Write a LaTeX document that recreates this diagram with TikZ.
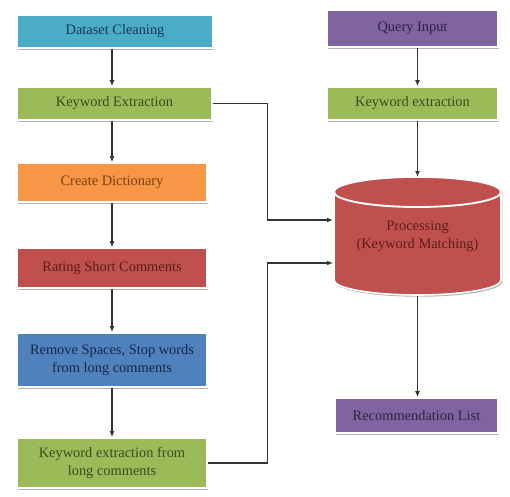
\documentclass[tikz,border=0pt]{standalone}
\usepackage{fontspec}
\setmainfont{Liberation Serif}
\usetikzlibrary{arrows.meta,shadows}

\definecolor{aquafill}{HTML}{4BACC6}
\definecolor{aquatext}{HTML}{17375E}
\definecolor{olivefill}{HTML}{9BBB59}
\definecolor{olivetext}{HTML}{3B4A1E}
\definecolor{orangefill}{HTML}{F79646}
\definecolor{orangetext}{HTML}{7F3F0A}
\definecolor{redfill}{HTML}{C0504D}
\definecolor{redtext}{HTML}{5A1E1C}
\definecolor{bluefill}{HTML}{4F81BD}
\definecolor{bluetext}{HTML}{15284A}
\definecolor{purplefill}{HTML}{8064A2}
\definecolor{purpletext}{HTML}{2E2340}

\begin{document}
\begin{tikzpicture}[x=0.75pt,y=0.75pt,yscale=-1,xscale=1,
    flowbox/.style={draw=white, line width=1.2pt, inner sep=0pt, align=center,
        font=\fontsize{10.8}{13.5}\selectfont,
        drop shadow={shadow xshift=1pt, shadow yshift=-1.3pt, opacity=0.3, fill=black}},
    flowarrow/.style={draw=black!80, line width=0.8pt, -{Latex[length=4.5pt,width=3.6pt]}}]
        \useasboundingbox (0,0) rectangle (510,496);

        %Shape: Rectangle [id:dc]
        \node [flowbox, fill=aquafill, text=aquatext, minimum width=147pt, minimum height=24.75pt] (dc) at (115,31.5) {Dataset Cleaning};
        %Shape: Rectangle [id:ke]
        \node [flowbox, fill=olivefill, text=olivetext, minimum width=146.25pt, minimum height=24.75pt] (ke) at (114.5,103.5) {Keyword Extraction};
        %Shape: Rectangle [id:cd]
        \node [flowbox, fill=orangefill, text=orangetext, minimum width=142.5pt, minimum height=29.25pt] (cd) at (112,182.5) {Create Dictionary};
        %Shape: Rectangle [id:rs]
        \node [flowbox, fill=redfill, text=redtext, minimum width=142.5pt, minimum height=30pt] (rs) at (112,268) {Rating Short Comments};
        %Shape: Rectangle [id:rm]
        \node [flowbox, fill=bluefill, text=bluetext, minimum width=142.5pt, minimum height=40.5pt] (rm) at (112,360) {Remove Spaces, Stop words\\from long comments};
        %Shape: Rectangle [id:kl]
        \node [flowbox, fill=olivefill, text=olivetext, minimum width=142.5pt, minimum height=37.5pt] (kl) at (112,463) {Keyword extraction from\\long comments};

        %Shape: Rectangle [id:qi]
        \node [flowbox, fill=purplefill, text=purpletext, minimum width=128.25pt, minimum height=27.75pt] (qi) at (412.5,28.5) {Query Input};
        %Shape: Rectangle [id:ke2]
        \node [flowbox, fill=olivefill, text=olivetext, minimum width=128.25pt, minimum height=24.75pt] (ke2) at (412.5,103.5) {Keyword extraction};
        %Shape: Rectangle [id:rl]
        \node [flowbox, fill=purplefill, text=purpletext, minimum width=122.25pt, minimum height=26.25pt] (rl) at (416.5,415.5) {Recommendation List};

        %Shape: Can [id:proc]
        \filldraw [fill=redfill, draw=white, line width=1.2pt, drop shadow={shadow xshift=1pt, shadow yshift=-1.3pt, opacity=0.3, fill=black}]
            (334,192) -- (334,280) arc[start angle=180, end angle=0, x radius=83.5, y radius=15]
            -- (501,192) arc[start angle=0, end angle=-180, x radius=83.5, y radius=15] -- cycle ;
        \draw [white, line width=1.4pt] (334,192) arc[start angle=180, end angle=0, x radius=83.5, y radius=15] ;
        % Text Node
        \node [text=redtext, align=center, inner sep=0pt, font=\fontsize{10.8}{13.5}\selectfont] (proc) at (417.5,236) {Processing\\(Keyword Matching)};
        \coordinate (procin1) at (333,220);
        \coordinate (procin2) at (333,263);
        \coordinate (proctop) at (417.5,177);
        \coordinate (procbot) at (417.5,296);

        %Straight Lines
        \draw [flowarrow] (dc.south -| rs) -- (ke.north -| rs) ;
        \draw [flowarrow] (ke.south -| rs) -- (cd.north) ;
        \draw [flowarrow] (cd) -- (rs) ;
        \draw [flowarrow] (rs) -- (rm) ;
        \draw [flowarrow] (rm) -- (kl) ;
        \draw [flowarrow] (qi.south -| proctop) -- (ke2.north -| proctop) ;
        \draw [flowarrow] (ke2.south -| proctop) -- (proctop) ;
        \draw [flowarrow] (procbot) -- (rl.north -| procbot) ;
        %Elbow Connectors
        \draw [flowarrow] (ke.east) -- ++(55,0) |- (procin1) ;
        \draw [flowarrow] (kl.east) -- ++(60,0) |- (procin2) ;
    \end{tikzpicture}
\end{document}
